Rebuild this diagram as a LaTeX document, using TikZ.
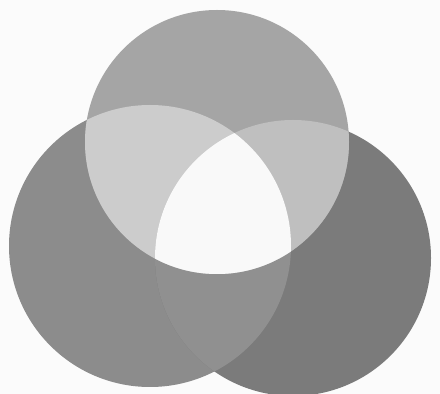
\documentclass[tikz,border=0pt]{standalone}
\usetikzlibrary{calc}
\definecolor{VennPaper}{HTML}{FBFBFB}
\definecolor{VennTop}{HTML}{A5A5A5}
\definecolor{VennLeft}{HTML}{8C8C8C}
\definecolor{VennRight}{HTML}{7B7B7B}
\definecolor{VennTopLeft}{HTML}{CCCCCC}
\definecolor{VennTopRight}{HTML}{BFBFBF}
\definecolor{VennLeftRight}{HTML}{909090}
\definecolor{VennCore}{HTML}{F9F9F9}
\tikzset{
  paper/.style={fill=VennPaper, draw=none},
  disc/.style={draw=none},
}
\newcommand{\rTop}{132}
\newcommand{\rLeft}{141}
\newcommand{\rRight}{138}

\begin{document}
\begin{tikzpicture}[x=0.025cm,y=0.025cm]
  % Page area
  \fill[paper] (0,0) rectangle (440,394);
  \useasboundingbox (0,0) rectangle (440,394);
  % Circle centres
  \coordinate (top) at (217,252);
  \coordinate (left) at (150,148);
  \coordinate (right) at (293,136);
  % Single circles
  \fill[disc, VennLeft] (left) circle (\rLeft);
  \fill[disc, VennRight] (right) circle (\rRight);
  \fill[disc, VennTop] (top) circle (\rTop);
  % Left and right overlap
  \begin{scope}
    \clip (left) circle (\rLeft);
    \fill[disc, VennLeftRight] (right) circle (\rRight);
  \end{scope}
  % Top and left overlap
  \begin{scope}
    \clip (left) circle (\rLeft);
    \fill[disc, VennTopLeft] (top) circle (\rTop);
  \end{scope}
  % Top and right overlap
  \begin{scope}
    \clip (right) circle (\rRight);
    \fill[disc, VennTopRight] (top) circle (\rTop);
  \end{scope}
  % Common core of all three
  \begin{scope}
    \clip (left) circle (\rLeft);
    \clip (right) circle (\rRight);
    \fill[disc, VennCore] (top) circle (\rTop);
  \end{scope}
\end{tikzpicture}
\end{document}
